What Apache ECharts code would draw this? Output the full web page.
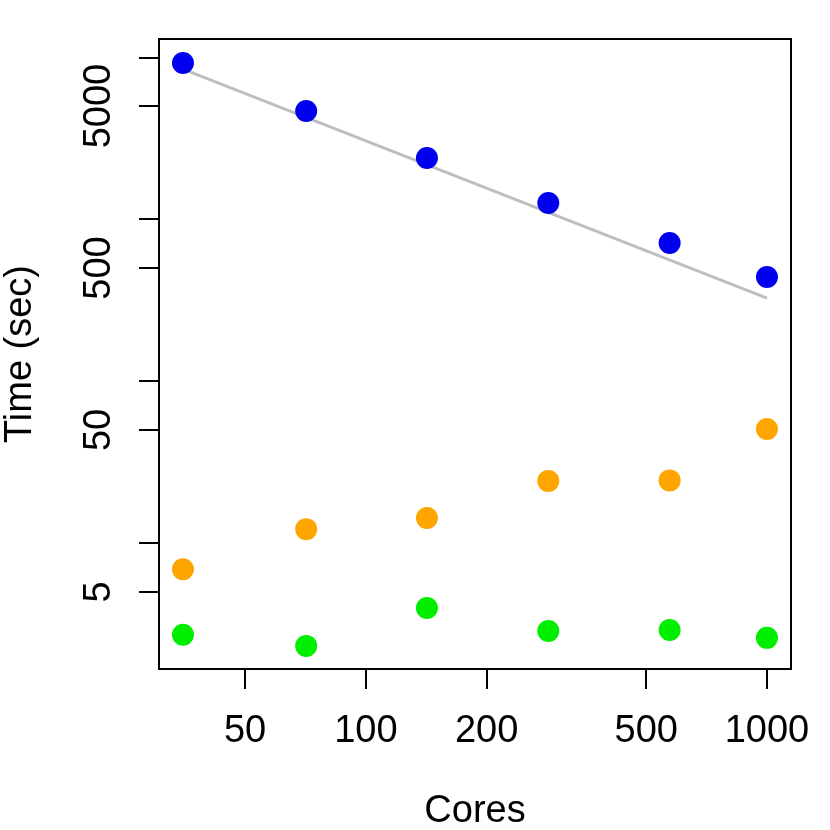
<!DOCTYPE html>
<html lang="en">
<head>
    <meta charset="UTF-8">
    <title>Time vs Cores</title>
    <script src="https://cdn.jsdelivr.net/npm/echarts@6/dist/echarts.min.js"></script>
    <style>
        body { margin: 0; background: #fff; }
    </style>
</head>
<body>
    <div id="main" style="width: 830px;height: 830px"></div>
    <script type="text/javascript">
        // data
        var cores = [35, 71, 142, 285, 572, 1000];
        var timeTotal = [9210, 4660, 2390, 1260, 714, 440];
        var timeOrange = [6.9, 12.2, 14.3, 24.2, 24.4, 50.7];
        var timeGreen = [2.72, 2.32, 3.98, 2.87, 2.91, 2.60];
        // fitted line end points
        var fitX = [35, 1000];
        var fitY = [8450, 326];

        var xTicks = [50, 100, 200, 500, 1000];
        var yTicks = [5, 10, 50, 100, 500, 1000, 5000, 10000];
        var yLabels = [5, 50, 500, 5000];

        var pairs = function (xs, ys) {
            return xs.map(function (x, i) { return [x, ys[i]]; });
        };
        var plain = function (v) { return String(Math.round(v)); };

        var myChart = echarts.init(document.getElementById('main'));
        var font = 'Liberation Sans, Arial, Helvetica, sans-serif';

        var option = {
            backgroundColor: '#fff',
            animation: false,
            grid: {
                left: 159, right: 39, top: 39, bottom: 161,
                containLabel: false,
                outerBoundsMode: 'none',
                show: true, borderColor: '#000', borderWidth: 2
            },
            xAxis: {
                type: 'log',
                logBase: 10,
                min: 30.5,
                max: 1148,
                name: 'Cores',
                nameLocation: 'middle',
                nameGap: 124,
                nameTextStyle: { color: '#000', fontSize: 38, fontFamily: font },
                axisLine: { show: false },
                splitLine: { show: false },
                axisTick: {
                    show: true, inside: false, length: 20,
                    customValues: xTicks,
                    lineStyle: { color: '#000', width: 2 }
                },
                axisLabel: {
                    customValues: xTicks,
                    formatter: plain,
                    margin: 44,
                    color: '#000', fontSize: 38, fontFamily: font
                }
            },
            yAxis: {
                type: 'log',
                logBase: 10,
                min: 1.67,
                max: 12970,
                name: 'Time (sec)',
                nameLocation: 'middle',
                nameGap: 119,
                nameRotate: 90,
                nameTextStyle: { color: '#000', fontSize: 38, fontFamily: font },
                axisLine: { show: false },
                splitLine: { show: false },
                axisTick: {
                    show: true, inside: false, length: 20,
                    customValues: yTicks,
                    lineStyle: { color: '#000', width: 2 }
                },
                axisLabel: {
                    customValues: yLabels,
                    formatter: plain,
                    rotate: 90,
                    margin: 40,
                    color: '#000', fontSize: 38, fontFamily: font
                }
            },
            series: [
                {
                    type: 'line',
                    data: pairs(fitX, fitY),
                    symbol: 'none',
                    lineStyle: { color: '#BEBEBE', width: 3 },
                    z: 1
                },
                {
                    type: 'scatter',
                    data: pairs(cores, timeTotal),
                    symbolSize: 22,
                    itemStyle: { color: '#0000EE', opacity: 1 },
                    z: 2
                },
                {
                    type: 'scatter',
                    data: pairs(cores, timeOrange),
                    symbolSize: 22,
                    itemStyle: { color: '#FFA500', opacity: 1 },
                    z: 2
                },
                {
                    type: 'scatter',
                    data: pairs(cores, timeGreen),
                    symbolSize: 22,
                    itemStyle: { color: '#00EE00', opacity: 1 },
                    z: 2
                }
            ]
        };
        myChart.setOption(option);
    </script>
</body>
</html>
